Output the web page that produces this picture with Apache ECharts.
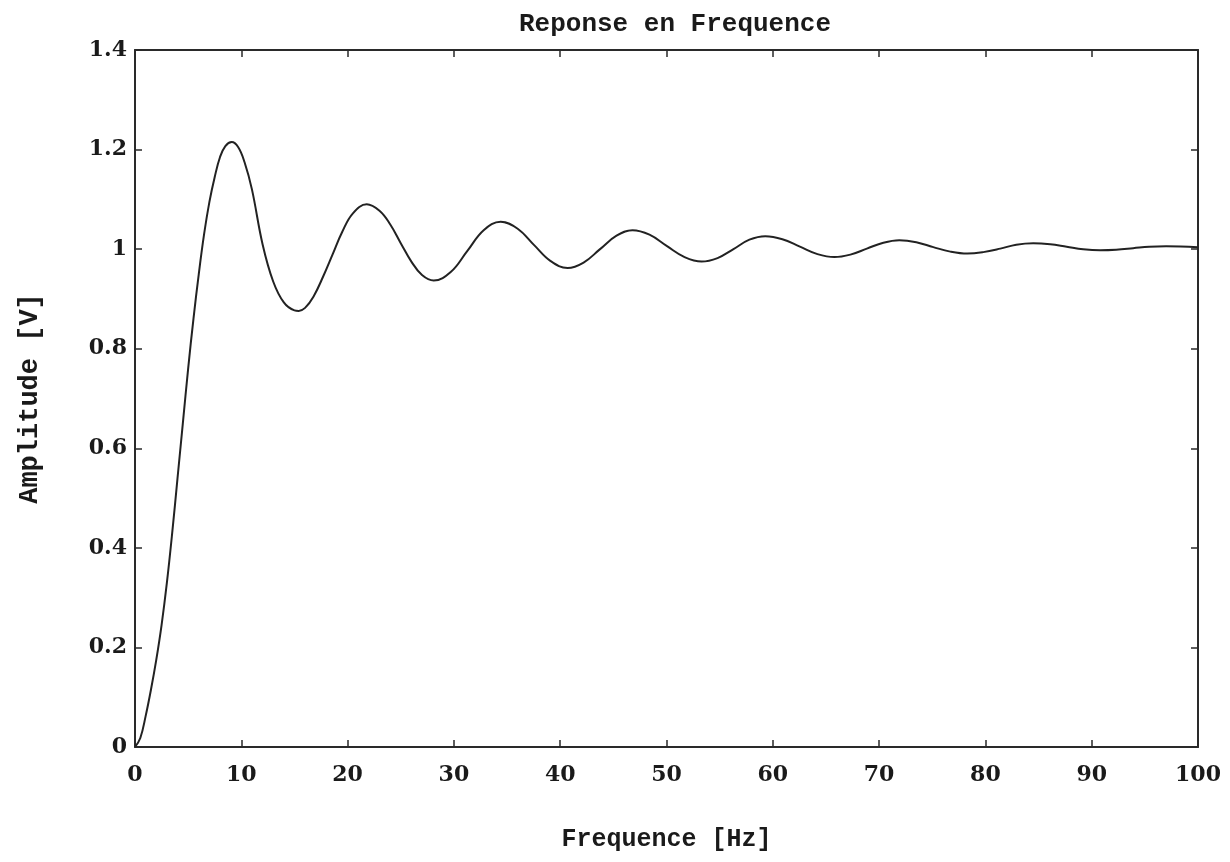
<!DOCTYPE html>
<html>
<head>
<meta charset="utf-8">
<script src="https://cdn.jsdelivr.net/npm/echarts@6/dist/echarts.min.js"></script>
<title>Reponse en Frequence</title>
<style>
  html, body { margin: 0; padding: 0; background: #fff; }
</style>
</head>
<body>
<div id="main" style="width:1230px;height:862px;"></div>
<script type="text/javascript">
// frequence [Hz] et amplitude [V]
var freq = [0, 0.5, 1, 1.5, 2, 2.5, 3, 3.5, 4, 4.5, 5, 5.5, 6, 6.5, 7, 7.5, 8, 8.5, 9.1,
  9.7, 10.3, 11, 12, 13, 14, 15, 15.4, 16, 16.8, 17.7, 18.6, 19.5, 20.5, 21.8,
  23, 24, 25, 26, 27, 28.1, 29.7, 31.25, 32.8, 34.4,
  36.0, 37.55, 39.1, 40.7, 42.2, 43.75, 45.3, 46.8,
  48.4, 50.05, 51.7, 53.3, 54.8, 56.3, 57.8, 59.3,
  60.9, 62.55, 64.2, 65.8, 67.3, 68.85, 70.4, 71.9,
  73.5, 75.1, 76.7, 78.3, 79.8, 81.4, 82.9, 84.5,
  86.1, 87.65, 89.2, 90.8, 92.3, 93.9, 95.4, 97, 100];
var amplitude = [0, 0.018, 0.062, 0.115, 0.175, 0.245, 0.33, 0.43, 0.54, 0.65, 0.76, 0.86, 0.95, 1.03, 1.095, 1.145, 1.185, 1.207, 1.215,
  1.205, 1.175, 1.12, 1.01, 0.935, 0.893, 0.877, 0.876, 0.882, 0.905, 0.945, 0.99, 1.035, 1.072, 1.09,
  1.077, 1.05, 1.012, 0.975, 0.948, 0.937, 0.954, 0.996, 1.038, 1.055,
  1.041, 1.008, 0.976, 0.962, 0.973, 1.0, 1.027, 1.038,
  1.029, 1.006, 0.984, 0.975, 0.982, 1.0, 1.019, 1.026,
  1.02, 1.005, 0.99, 0.984, 0.989, 1.001, 1.013, 1.018,
  1.014, 1.004, 0.995, 0.991, 0.994, 1.001, 1.009, 1.012,
  1.01, 1.005, 1.0, 0.998, 0.999, 1.002, 1.005, 1.006, 1.004];

var points = [];
for (var i = 0; i < freq.length; i++) {
  points.push([freq[i], amplitude[i]]);
}

var tickFont = '"DejaVu Serif", serif';
var nameFont = '"Liberation Mono", monospace';
var axisColor = '#2a2a2a';

var myChart = echarts.init(document.getElementById('main'));
myChart.setOption({
  backgroundColor: '#fff',
  animation: false,
  title: {
    text: 'Reponse en Frequence',
    left: 670,
    top: 6,
    textAlign: 'center',
    textStyle: { fontFamily: nameFont, fontWeight: 'bold', fontSize: 26, color: '#1a1a1a' }
  },
  grid: { left: 135, right: 32, top: 50, bottom: 115 },
  xAxis: [
    {
      type: 'value', min: 0, max: 100, interval: 10,
      name: 'Frequence [Hz]', nameLocation: 'middle', nameGap: 80,
      nameTextStyle: { fontFamily: nameFont, fontWeight: 'bold', fontSize: 25, color: '#1a1a1a' },
      axisLine: { onZero: false, lineStyle: { color: axisColor, width: 2 } },
      axisTick: { inside: true, length: 7, lineStyle: { color: axisColor, width: 1.5 } },
      axisLabel: { margin: 17, fontFamily: tickFont, fontWeight: 'bold', fontSize: 22, color: '#1a1a1a' },
      splitLine: { show: false }
    },
    {
      type: 'value', position: 'top', min: 0, max: 100, interval: 10,
      axisLine: { onZero: false, lineStyle: { color: axisColor, width: 2 } },
      axisTick: { inside: true, length: 7, lineStyle: { color: axisColor, width: 1.5 } },
      axisLabel: { show: false },
      splitLine: { show: false }
    }
  ],
  yAxis: [
    {
      type: 'value', min: 0, max: 1.4, interval: 0.2,
      name: 'Amplitude [V]', nameLocation: 'middle', nameGap: 91, nameRotate: 90,
      nameTextStyle: { fontFamily: nameFont, fontWeight: 'bold', fontSize: 27, color: '#1a1a1a' },
      axisLine: { onZero: false, lineStyle: { color: axisColor, width: 2 } },
      axisTick: { inside: true, length: 7, lineStyle: { color: axisColor, width: 1.5 } },
      axisLabel: {
        margin: 8, fontFamily: tickFont, fontWeight: 'bold', fontSize: 22, color: '#1a1a1a',
        formatter: function (v) { return +v.toFixed(1) + ''; }
      },
      splitLine: { show: false }
    },
    {
      type: 'value', position: 'right', min: 0, max: 1.4, interval: 0.2,
      axisLine: { onZero: false, lineStyle: { color: axisColor, width: 2 } },
      axisTick: { inside: true, length: 7, lineStyle: { color: axisColor, width: 1.5 } },
      axisLabel: { show: false },
      splitLine: { show: false }
    }
  ],
  series: [
    {
      type: 'line',
      data: points,
      smooth: 0.4,
      showSymbol: false,
      lineStyle: { color: '#222', width: 2 }
    }
  ]
});
</script>
</body>
</html>
